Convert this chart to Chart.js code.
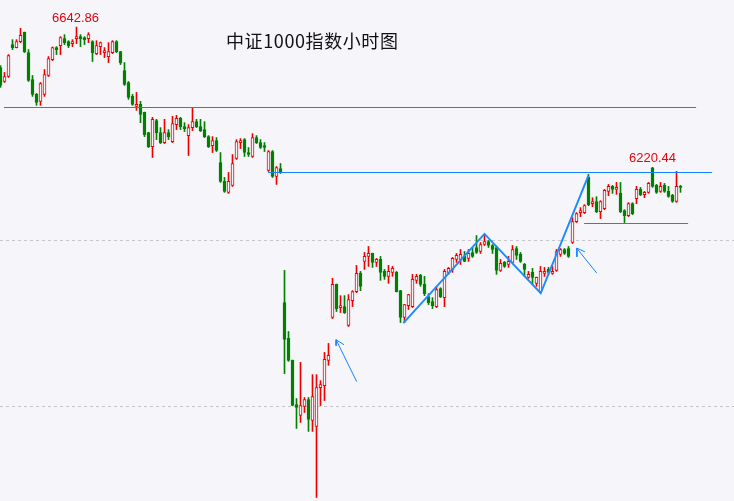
<!DOCTYPE html>
<html><head><meta charset="utf-8">
<script src="https://cdn.jsdelivr.net/npm/chart.js@4.4.1/dist/chart.umd.min.js"></script>
<style>
html,body{margin:0;padding:0;background:#f6f6fa;}
#wrap{position:relative;width:734px;height:501px;overflow:hidden;background:#f6f6fa;}
canvas{position:absolute;left:0;top:0;}
.t{position:absolute;white-space:nowrap;}
</style></head><body>
<div id="wrap">
<canvas id="c" width="734" height="501"></canvas>
<div class="t" style="left:226px;top:31px;font:18px/18px 'Noto Sans CJK SC';letter-spacing:0.6px;color:#111;">中证1000指数小时图</div>
<div class="t" style="left:52px;top:10px;font:13px/15px 'Liberation Sans';color:#e8000b;">6642.86</div>
<div class="t" style="left:629px;top:150px;font:13px/15px 'Liberation Sans';color:#e8000b;">6220.44</div>
</div>
<script>
const opens = [6521,6479,6494,6590,6581,6599,6627,6566,6485,6440,
6419,6440,6497,6545,6581,6587,6608,6599,6593,6608,
6614,6611,6608,6599,6563,6584,6566,6554,6566,6599,
6569,6512,6476,6434,6404,6410,6386,6325,6283,6361,
6325,6295,6325,6298,6349,6368,6343,6316,6340,6358,
6343,6334,6313,6286,6301,6235,6178,6145,6166,6247,
6295,6304,6265,6253,6310,6295,6286,6211,6268,6193,
6217,5813,5705,5639,5506,5473,5500,5521,5458,5440,
5557,5563,5639,5768,5868,5798,5801,5744,5819,5846,
5901,5937,5952,5961,5934,5943,5907,5892,5904,5904,
5849,5768,5804,5801,5880,5895,5868,5831,5816,5801,
5855,5828,5904,5913,5943,5943,5952,5946,5964,5979,
5967,5988,5997,5985,5979,5910,5934,5928,5934,5976,
5958,5928,5889,5904,5871,5846,5901,5913,5901,5910,
5958,5973,5976,5994,6057,6084,6084,6190,6111,6117,
6087,6096,6148,6163,6154,6142,6090,6075,6111,6126,
6154,6138,6145,6219,6166,6148,6166,6148,6136,6118,
6163];
const highs = [6527,6506,6560,6605,6605,6639,6628,6575,6497,6443,
6476,6515,6554,6583,6584,6614,6620,6602,6605,6642.86,
6620,6614,6626,6602,6602,6598,6581,6596,6602,6602,
6570,6536,6479,6440,6446,6419,6387,6326,6371,6365,
6340,6365,6334,6374,6377,6371,6355,6349,6401,6365,
6365,6358,6316,6313,6310,6265,6190,6205,6259,6304,
6307,6307,6280,6322,6316,6304,6295,6271,6271,6223,
6232,5910,5726,5640,5524,5633,5527,5527,5596,5596,
5578,5663,5690,5886,5869,5834,5834,5837,5849,5925,
5907,5964,5982,5962,5946,5952,5913,5925,5922,5907,
5850,5808,5838,5898,5898,5898,5892,5840,5828,5862,
5858,5913,5919,5949,5961,5973,5967,5973,5979,6015,
5994,6018,6000,5988,5982,5943,5937,5952,5985,5982,
5964,5931,5907,5916,5890,5922,5919,5919,5922,5973,
5976,5976,5982,6069,6084,6099,6108,6199,6129,6132,
6120,6154,6169,6166,6175,6175,6093,6114,6114,6163,
6160,6148,6175,6220.44,6169,6175,6172,6163,6139,6208,
6166];
const lows = [6461,6476,6491,6575,6580,6596,6566,6479,6434,6407,
6407,6434,6494,6542,6560,6560,6590,6581,6584,6593,
6584,6590,6596,6539,6560,6560,6551,6536,6563,6566,
6530,6467,6425,6407,6392,6355,6313,6280,6250,6304,
6292,6292,6304,6295,6334,6334,6328,6256,6331,6340,
6328,6310,6280,6265,6268,6175,6145,6142,6163,6244,
6277,6253,6253,6250,6292,6277,6268,6208,6190,6169,
6202,5599,5636,5502,5434,5452,5482,5425,5425,5226,
5503,5518,5624,5765,5786,5783,5780,5741,5801,5843,
5849,5913,5922,5919,5922,5880,5883,5871,5892,5845,
5753,5753,5792,5798,5871,5862,5834,5807,5795,5798,
5828,5801,5898,5904,5934,5928,5936,5937,5949,5961,
5961,5985,5979,5961,5898,5907,5919,5919,5933,5943,
5934,5892,5886,5868,5862,5843,5892,5898,5898,5907,
5952,5958,5949,5991,6054,6072,6081,6105,6102,6084,
6066,6093,6135,6142,6139,6084,6054,6072,6078,6111,
6135,6129,6142,6160,6142,6145,6145,6130,6115,6115,
6145];
const closes = [6467,6494,6557,6581,6599,6618,6569,6482,6440,6416,
6473,6500,6548,6581,6575,6611,6596,6587,6599,6614,
6608,6605,6620,6566,6587,6596,6572,6569,6599,6569,
6536,6470,6431,6410,6410,6380,6319,6283,6365,6325,
6295,6325,6313,6352,6368,6343,6337,6340,6358,6343,
6331,6313,6283,6301,6271,6178,6148,6178,6232,6298,
6301,6265,6259,6310,6295,6280,6280,6268,6193,6220,
6205,5702,5639,5503,5497,5503,5521,5461,5530,5557,
5566,5642,5654,5868,5795,5804,5783,5822,5846,5901,
5862,5952,5961,5934,5943,5904,5892,5907,5916,5846,
5768,5807,5837,5883,5892,5868,5840,5813,5804,5852,
5831,5907,5916,5946,5955,5958,5937,5961,5952,5964,
5988,5997,5985,5973,5910,5931,5922,5937,5973,5955,
5937,5913,5898,5889,5889,5907,5907,5904,5907,5967,
5973,5961,5952,6057,6081,6090,6105,6108,6117,6087,
6117,6151,6163,6154,6160,6087,6075,6111,6081,6154,
6138,6145,6172,6163,6145,6163,6148,6133,6118,6163,
6160];

// reference levels and drawn annotations (value units: candle index, price)
const gridLevels = [5500, 6000];
const resistTop = {from: 0.875, to: 173.9, price: 6400.6};
const resistMid = {from: 66.9, to: 177.9, price: 6204.8};
const supportBox = {from: 145.9, to: 171.9, price: 6051.2};
const zigzagX = [100.7, 121.0, 135.05, 146.95];
const zigzagY = [5751, 6020, 5841, 6195];
const arrow1X = [89.05, 83.9, 83.9, 85.9];
const arrow1Y = [5575, 5701, 5683, 5686];
const arrow2X = [149.05, 144.05, 144.1, 146.1];
const arrow2Y = [5902, 5977, 5951, 5966];

const BG = '#f6f6fa', RED = '#f00000', GREEN = '#008000', BLUE = '#1482ff';
const idx = opens.map((_, i) => i);
const up = idx.map(i => closes[i] >= opens[i]);

const bodyData = idx.map(i => ({x: i, y: [Math.min(opens[i], closes[i]), Math.max(opens[i], closes[i])]}));
const wickData = idx.map(i => ({x: i, y: [lows[i], highs[i]]}));

function seg(xs, ys){ return xs.map((x, i) => ({x: x, y: ys[i]})); }
function lineDS(data, color, width, dash, order){
  return {type:'line', data, borderColor: color, borderWidth: width, borderDash: dash || [],
    pointRadius: 0, fill: false, tension: 0, order: order};
}

const datasets = [
  {type:'bar', data: bodyData, barThickness: 3, grouped: false, minBarLength: 1,
   backgroundColor: idx.map(i => up[i] ? BG : GREEN),
   borderColor: idx.map(i => up[i] ? RED : GREEN),
   borderWidth: 1, borderSkipped: false, order: 1},
  {type:'bar', data: wickData, barThickness: 1, grouped: false,
   backgroundColor: idx.map(i => up[i] ? RED : GREEN), borderWidth: 0, order: 2},
  lineDS(seg([resistTop.from, resistTop.to], [resistTop.price, resistTop.price]), BLUE, 1, null, 0),
  lineDS(seg([resistMid.from, resistMid.to], [resistMid.price, resistMid.price]), BLUE, 1, null, 0),
  lineDS(seg([supportBox.from, supportBox.to], [supportBox.price, supportBox.price]), BLUE, 1, null, 0),
  lineDS(seg(zigzagX, zigzagY), '#1e8cff', 2, null, 0),
  lineDS(seg(arrow1X.slice(0,3), arrow1Y.slice(0,3)), BLUE, 1, null, 0),
  lineDS(seg([arrow1X[1], arrow1X[3]], [arrow1Y[1], arrow1Y[3]]), BLUE, 1, null, 0),
  lineDS(seg(arrow2X.slice(0,3), arrow2Y.slice(0,3)), BLUE, 1, null, 0),
  lineDS(seg([arrow2X[1], arrow2X[3]], [arrow2Y[1], arrow2Y[3]]), BLUE, 1, null, 0),
];
gridLevels.forEach(g => datasets.push(lineDS(seg([-0.125, 183.375], [g, g]), '#c6c6ca', 1, [3, 3], 5)));

new Chart(document.getElementById('c'), {
  type: 'bar',
  data: {datasets},
  options: {
    responsive: false, animation: false, devicePixelRatio: 1,
    layout: {padding: 0},
    plugins: {legend: {display: false}, tooltip: {enabled: false}, title: {display: false}},
    scales: {
      x: {type: 'linear', display: false, offset: false, bounds: 'ticks', min: -0.125, max: 183.375},
      y: {type: 'linear', display: false, min: 5215.4, max: 6724.4}
    }
  }
});
</script>
</body></html>
